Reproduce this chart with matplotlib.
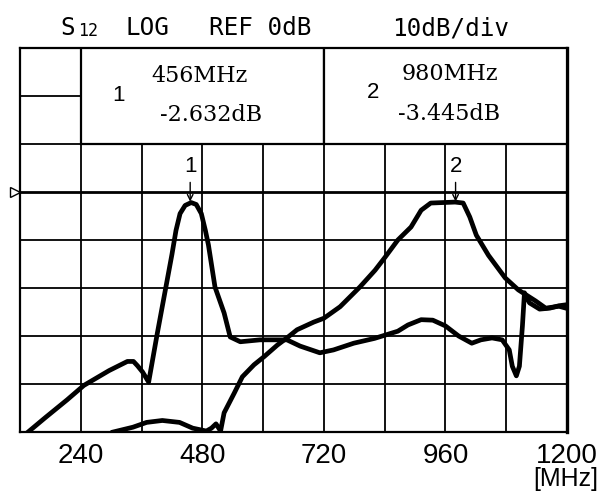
import matplotlib.pyplot as plt
from matplotlib.patches import Rectangle
from matplotlib.transforms import blended_transform_factory

# 軌跡A（456MHz 付近の鋭いピーク）
freq_a = [136, 170, 213, 246, 296, 332, 344, 352, 362, 374, 391, 407, 420, 428,
          436, 446, 458, 468, 478, 486, 492, 505, 523, 535, 555, 594, 621, 647,
          673, 712, 739, 779, 820, 866, 886, 912, 935, 960, 986, 1012, 1030, 1052,
          1072, 1086, 1092, 1100, 1106, 1112, 1116, 1126, 1146, 1166, 1184, 1198]
db_a = [-50, -47, -43.3, -40.3, -37.2, -35.3, -35.3, -36.2, -37.5, -39.6, -29.5,
        -20.4, -13, -8, -4.5, -2.8, -2.2, -2.6, -4.5, -8, -11, -19.8, -25.2,
        -30.2, -31.2, -30.8, -30.8, -30.8, -32.1, -33.5, -32.9, -31.5, -30.5,
        -29, -27.7, -26.6, -26.7, -27.9, -30, -31.5, -30.8, -30.4, -30.8, -32.9,
        -36.3, -38.3, -36.3, -27.9, -21, -23.1, -24.4, -24.2, -23.7, -23.5]

# 軌跡B（980MHz 付近の広帯域ピーク）
freq_b = [304, 343, 370, 401, 435, 461, 488, 498, 507, 516, 523, 543, 559, 582,
          602, 628, 647, 667, 700, 720, 752, 791, 821, 840, 866, 892, 912, 931,
          955, 979, 995, 1008, 1021, 1045, 1078, 1104, 1138, 1158, 1184, 1198]
db_b = [-50, -49, -48, -47.6, -48, -49.2, -49.8, -49.2, -48.3, -49.8, -46, -41.9,
        -38.5, -36, -34.3, -31.9, -30.4, -28.7, -27.1, -26.3, -23.9, -19.8, -16.3,
        -13.7, -10, -7.3, -3.8, -2.3, -2.2, -2.1, -2.3, -5.2, -9, -13.2, -17.9,
        -20.4, -22.7, -24.2, -23.8, -24.2]

# マーカー
marker_ids = ['1', '2']
marker_freqs = [456, 980]
marker_dbs = [-2.632, -3.445]

x_ticks = [240, 480, 720, 960, 1200]

fig = plt.figure(figsize=(6.09, 4.92), dpi=100)
ax = fig.add_axes([20 / 609, 1 - 432 / 492, 547 / 609, 384 / 492])
ax.set_xlim(120, 1200)
ax.set_ylim(-50, 30)

# 格子
for x in range(240, 1200, 120):
    ax.axvline(x, color='black', lw=1.3, zorder=1)
for y in range(-40, 30, 10):
    if y == 0:
        ax.axhline(y, color='black', lw=2.0, zorder=1)
    else:
        ax.axhline(y, color='black', lw=1.3, zorder=1)

# 基準位置の三角形
trans = blended_transform_factory(ax.transAxes, ax.transData)
ax.plot([-0.01], [0], marker='>', markersize=7, markerfacecolor='white',
        markeredgecolor='black', markeredgewidth=1.0, transform=trans, clip_on=False)

# 軌跡
ax.plot(freq_a, db_a, color='black', lw=3.4, solid_joinstyle='round', zorder=4)
ax.plot(freq_b, db_b, color='black', lw=3.4, solid_joinstyle='round', zorder=4)

# マーカー表示枠
box_edges = [240, 720, 1200]
for i in range(2):
    ax.add_patch(Rectangle((box_edges[i], 10), box_edges[i + 1] - box_edges[i], 20,
                           facecolor='white', edgecolor='black', lw=1.6, zorder=3))

id_pos = [(315, 20.2), (817, 20.8)]
freq_pos = [(475, 24.2), (969, 24.6)]
db_pos = [(497, 16.0), (967, 16.2)]
for i in range(2):
    ax.text(*id_pos[i], marker_ids[i], ha='center', va='center', fontsize=16,
            family='Liberation Sans', zorder=5)
    ax.text(*freq_pos[i], f'{marker_freqs[i]}MHz', ha='center', va='center',
            fontsize=16, family='DejaVu Serif', zorder=5)
    ax.text(*db_pos[i], f'{marker_dbs[i]:.3f}dB', ha='center', va='center',
            fontsize=16, family='DejaVu Serif', zorder=5)
    # 矢印と番号
    ax.annotate('', xy=(marker_freqs[i], -2.0), xytext=(marker_freqs[i], 2.0),
                arrowprops=dict(arrowstyle='->', color='black', lw=1.0,
                                shrinkA=0, shrinkB=0), zorder=5)
    ax.text(marker_freqs[i], 5.3, marker_ids[i], ha='center', va='center',
            fontsize=16, family='Liberation Sans', zorder=5)

# 軸
ax.set_xticks(x_ticks)
ax.set_xticklabels([str(v) for v in x_ticks], fontsize=20, family='Liberation Sans')
ax.set_yticks([])
ax.tick_params(axis='x', length=0, pad=8)
for side in ['left', 'top', 'bottom']:
    ax.spines[side].set_linewidth(1.6)
ax.spines['right'].set_linewidth(2.4)

fig.text(566 / 609, 1 - 479 / 492, '[MHz]', ha='center', va='center',
         fontsize=18, family='Liberation Sans')

# 上部の表示
base = 1 - 35 / 492
mono = 'DejaVu Sans Mono'
fig.text(60 / 609, base, 'S', fontsize=17.5, family=mono, va='baseline')
fig.text(78 / 609, base - 1 / 492, '12', fontsize=12, family=mono, va='baseline')
fig.text(126 / 609, base, 'LOG', fontsize=17.5, family=mono, va='baseline')
fig.text(209 / 609, base, 'REF 0dB', fontsize=17.5, family=mono, va='baseline')
fig.text(392 / 609, base, '10dB/div', fontsize=17.5, family=mono, va='baseline')

plt.savefig('out.png', dpi=100)
